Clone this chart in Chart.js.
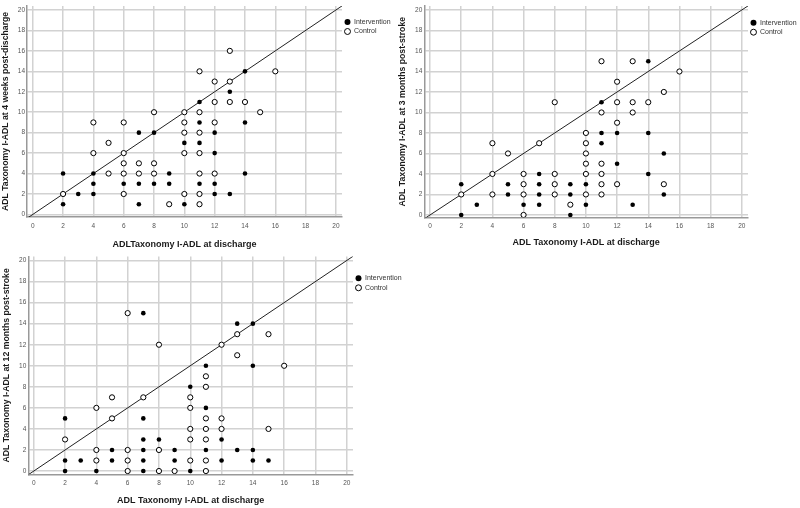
<!DOCTYPE html>
<html><head><meta charset="utf-8">
<script src="https://cdn.jsdelivr.net/npm/chart.js@4/dist/chart.umd.min.js"></script>
<style>
html,body{margin:0;padding:0;background:#fff;width:800px;height:508px;overflow:hidden;}
.box{position:absolute;}
canvas{display:block;}
</style></head><body>
<div class="box" style="left:0;top:0;"><canvas id="c1" width="400" height="255"></canvas></div>
<div class="box" style="left:396px;top:0;"><canvas id="c2" width="404" height="255"></canvas></div>
<div class="box" style="left:0;top:250px;"><canvas id="c3" width="420" height="258"></canvas></div>
<script>
// ---- data ----
const tickValues = [0, 2, 4, 6, 8, 10, 12, 14, 16, 18, 20];
const seriesLabels = ['Intervention', 'Control'];
const identityLine = [-1, 21];

const xTitle1 = 'ADLTaxonomy I-ADL at discharge';
const xTitle2 = 'ADL Taxonomy I-ADL at discharge';
const xTitle3 = 'ADL Taxonomy I-ADL at discharge';
const yTitle1 = 'ADL Taxonomy I-ADL at 4 weeks post-discharge';
const yTitle2 = 'ADL Taxonomy I-ADL at 3 months post-stroke';
const yTitle3 = 'ADL Taxonomy I-ADL at 12 months post-stroke';

// Panel 1: 4 weeks post-discharge  [discharge, follow-up]
const p1Intervention = [[2,4],[2,1],[3,2],[4,4],[4,3],[4,2],[6,3],[7,8],[7,3],[7,1],[8,8],[8,3],[9,4],[9,3],
  [14,14],[13,12],[11,11],[11,9],[14,9],[12,8],[10,7],[11,7],[12,6],[14,4],[11,3],[12,3],[12,2],[13,2],[10,1]];
const p1Control = [[2,2],[4,9],[4,6],[5,7],[5,4],[6,9],[6,6],[6,5],[6,4],[6,2],[7,5],[7,4],[8,10],[8,5],[8,4],[9,1],
  [13,16],[11,14],[16,14],[12,13],[13,13],[12,11],[13,11],[14,11],[10,10],[11,10],[15,10],[10,9],[12,9],[10,8],[11,8],
  [10,6],[11,6],[11,4],[12,4],[10,2],[11,2],[11,1]];

// Panel 2: 3 months post-stroke
const p2Intervention = [[2,3],[2,0],[3,1],[5,3],[5,2],[6,1],[7,4],[7,3],[7,2],[7,1],[9,3],[9,2],[9,0],
  [14,15],[11,11],[11,8],[12,8],[14,8],[11,7],[15,6],[12,5],[14,4],[10,3],[15,2],[10,1],[13,1]];
const p2Control = [[2,2],[4,7],[4,4],[4,2],[5,6],[6,4],[6,3],[6,2],[6,0],[7,7],[8,11],[8,4],[8,3],[8,2],[9,1],
  [11,15],[13,15],[16,14],[12,13],[15,12],[12,11],[13,11],[14,11],[11,10],[13,10],[12,9],[10,8],[10,7],[10,6],
  [10,5],[11,5],[10,4],[11,4],[11,3],[12,3],[15,3],[10,2],[11,2]];

// Panel 3: 12 months post-stroke
const p3Intervention = [[7,15],[2,5],[7,5],[7,3],[8,3],[5,2],[7,2],[9,2],[2,1],[3,1],[5,1],[7,1],[9,1],[2,0],[4,0],[7,0],
  [13,14],[14,14],[11,10],[14,10],[10,8],[11,6],[12,3],[11,2],[13,2],[14,2],[12,1],[14,1],[15,1],[10,0]];
const p3Control = [[6,15],[8,12],[5,7],[7,7],[4,6],[5,5],[2,3],[4,2],[6,2],[8,2],[4,1],[6,1],[6,0],[8,0],[9,0],
  [13,13],[15,13],[12,12],[13,11],[16,10],[11,9],[11,8],[10,7],[10,6],[11,5],[12,5],[10,4],[11,4],[12,4],[15,4],
  [10,3],[11,3],[10,1],[11,1],[11,0]];

// ---- drawing ----
const FONT = "'Liberation Sans', Arial, sans-serif";
const LEG_FONT = 7, LEG_BOX = 6, LEG_PAD = 2.5;
const toPts = arr => arr.map(p => ({x: p[0], y: p[1]}));

// width the legend will take (Chart.js: padding + box + gap + widest text + 10)
const mctx = document.createElement('canvas').getContext('2d');
mctx.font = 'normal ' + LEG_FONT + 'px ' + FONT;
const legendW = LEG_PAD + LEG_BOX + LEG_FONT / 2 + Math.max(...seriesLabels.map(t => mctx.measureText(t).width)) + 10;

function makeChart(id, o) {
  const canvas = document.getElementById(id);
  const padRight = canvas.width - o.plotRight - legendW;
  return new Chart(canvas, {
    type: 'scatter',
    data: {
      datasets: [
        { label: seriesLabels[0], data: toPts(o.intervention), pointStyle: 'circle',
          pointRadius: 2.3, pointHoverRadius: 2.3, backgroundColor: '#000', borderColor: '#000', borderWidth: 0 },
        { label: seriesLabels[1], data: toPts(o.control), pointStyle: 'circle',
          pointRadius: 2.6, pointHoverRadius: 2.6, backgroundColor: '#fff', borderColor: '#000', borderWidth: 1 },
        { label: 'y = x', data: identityLine.map(v => ({x: v, y: v})), showLine: true,
          pointRadius: 0, borderColor: '#222', borderWidth: 1, fill: false }
      ]
    },
    options: {
      responsive: false, animation: false, devicePixelRatio: 1,
      layout: { padding: { top: o.padTop, left: 0, right: padRight, bottom: 0 } },
      plugins: {
        tooltip: { enabled: false },
        legend: {
          position: 'right', align: 'start',
          title: { display: true, text: '', font: { size: 7, family: FONT }, padding: { top: o.legendTop, bottom: 0 } },
          labels: {
            usePointStyle: true, boxWidth: LEG_BOX, boxHeight: 4.2, padding: LEG_PAD,
            color: '#333', font: { size: LEG_FONT, family: FONT },
            filter: item => item.datasetIndex < 2
          }
        }
      },
      scales: {
        x: {
          type: 'linear', min: o.xMin, max: o.xMax,
          afterBuildTicks: s => { s.ticks = tickValues.map(v => ({value: v})); },
          afterFit: s => { s.height = o.xH; },
          grid: { color: '#d2d2d2', lineWidth: 1.5, drawTicks: false },
          border: { color: '#999', width: 1.5 },
          ticks: { autoSkip: false, maxRotation: 0, padding: 5, color: '#555', font: { size: 6.5, family: FONT } },
          title: { display: true, text: o.xTitle, color: '#1a1a1a', font: { size: 9, weight: 'bold', family: FONT },
                   padding: { top: 0, bottom: o.xTitlePad } }
        },
        y: {
          type: 'linear', min: o.yMin, max: o.yMax,
          afterBuildTicks: s => { s.ticks = tickValues.map(v => ({value: v})); },
          afterFit: s => { s.width = o.yW; },
          grid: { color: '#d2d2d2', lineWidth: 1.5, drawTicks: false },
          border: { color: '#999', width: 1.5 },
          ticks: { autoSkip: false, padding: 2, color: '#555', font: { size: 6.5, family: FONT } },
          title: { display: true, text: o.yTitle, color: '#1a1a1a', font: { size: 8.7, weight: 'bold', family: FONT },
                   padding: { top: o.yTitlePad, bottom: 0 } }
        }
      }
    }
  });
}

makeChart('c1', { intervention: p1Intervention, control: p1Control, xTitle: xTitle1, yTitle: yTitle1,
  padTop: 0, plotRight: 342, yW: 27, xH: 38, xTitlePad: 5.5, yTitlePad: 0.3, legendTop: 7.6,
  xMin: -0.38, xMax: 20.4, yMin: -0.25, yMax: 20.4 });
makeChart('c2', { intervention: p2Intervention, control: p2Control, xTitle: xTitle2, yTitle: yTitle2,
  padTop: 0, plotRight: 352, yW: 28.3, xH: 37.5, xTitlePad: 7, yTitlePad: 1.3, legendTop: 8.3,
  xMin: -0.37, xMax: 20.4, yMin: -0.25, yMax: 20.4 });
makeChart('c3', { intervention: p3Intervention, control: p3Control, xTitle: xTitle3, yTitle: yTitle3,
  padTop: 6.5, plotRight: 353, yW: 28.3, xH: 33.7, xTitlePad: 2.5, yTitlePad: 1.5, legendTop: 7.4,
  xMin: -0.35, xMax: 20.4, yMin: -0.31, yMax: 20.38 });
</script>
</body></html>
